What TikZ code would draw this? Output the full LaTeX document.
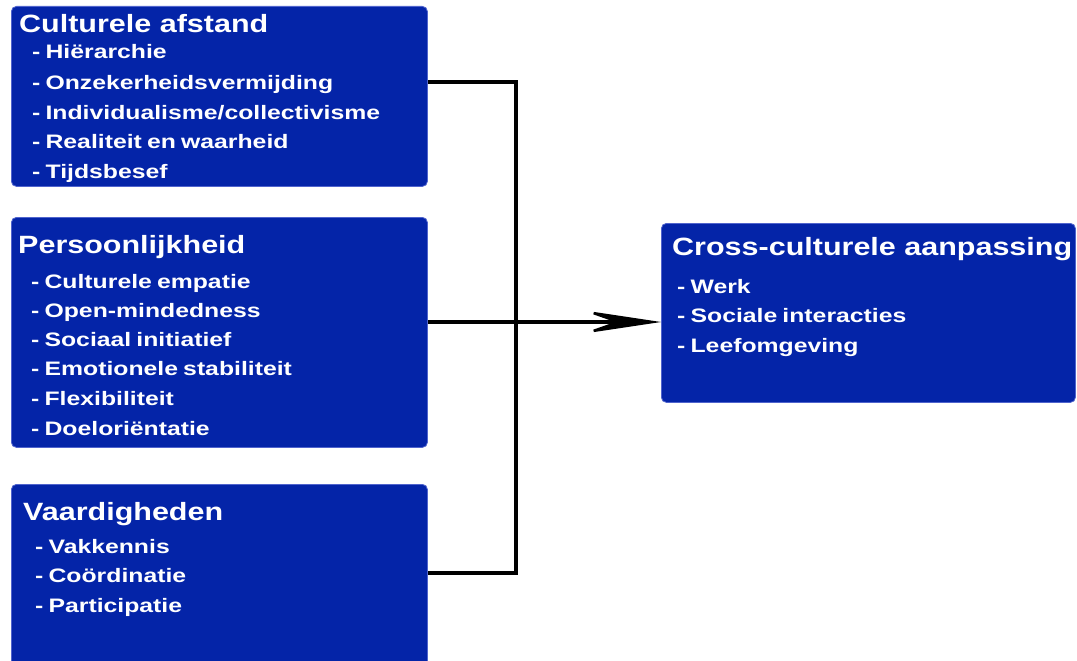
\documentclass[tikz,border=0pt]{standalone}
\usepackage{fontspec}
\setmainfont{Liberation Sans}
\newfontfamily\titlefam{Liberation Sans}[FakeStretch=1.22]
\newfontfamily\itemfam{Liberation Sans}[FakeStretch=1.27, WordSpace=0.75]
\usetikzlibrary{arrows.meta}
\definecolor{boxblue}{RGB}{4,36,168}
\definecolor{boxedge}{RGB}{80,100,205}
\begin{document}
\begin{tikzpicture}[x=1pt,y=-1pt,
  box/.style={draw=boxedge, line width=0.8pt, fill=boxblue, rounded corners=5pt, anchor=north west, inner sep=0pt},
  ttl/.style={anchor=base west, inner sep=0pt, text=white, font=\titlefam\bfseries\fontsize{25}{30}\selectfont},
  itm/.style={anchor=base west, inner sep=0pt, text=white, font=\itemfam\bfseries\fontsize{19.5}{24}\selectfont},
  conn/.style={line width=3.2pt, line join=miter, draw=black}]
\useasboundingbox (0,0) rectangle (1077,661);
\clip (0,0) rectangle (1077,661);

% boxes
\node[box, minimum width=416pt, minimum height=180pt] (b1) at (11,6) {};
\node[box, minimum width=416pt, minimum height=230pt] (b2) at (11,217) {};
\node[box, minimum width=416pt, minimum height=195pt] (b3) at (11,484) {};
\node[box, minimum width=414pt, minimum height=179pt] (b4) at (661,223) {};

% box 1 text
\node[ttl] (t1) at (19,33) {Culturele afstand};
\node[itm] (t1a) at (32,59) {- Hiërarchie};
\node[itm] (t1b) at (32,89) {- Onzekerheidsvermijding};
\node[itm] (t1c) at (32,119) {- Individualisme/collectivisme};
\node[itm] (t1d) at (32,148) {- Realiteit en waarheid};
\node[itm] (t1e) at (32,178) {- Tijdsbesef};

% box 2 text
\node[ttl] (t2) at (18,253) {Persoonlijkheid};
\node[itm] (t2a) at (31,288) {- Culturele empatie};
\node[itm] (t2b) at (31,317) {- Open-mindedness};
\node[itm] (t2c) at (31,346) {- Sociaal initiatief};
\node[itm] (t2d) at (31,375) {- Emotionele stabiliteit};
\node[itm] (t2e) at (31,405) {- Flexibiliteit};
\node[itm] (t2f) at (31,435) {- Doeloriëntatie};

% box 3 text
\node[ttl] (t3) at (23,520) {Vaardigheden};
\node[itm] (t3a) at (35,553) {- Vakkennis};
\node[itm] (t3b) at (35,582) {- Coördinatie};
\node[itm] (t3c) at (35,612) {- Participatie};

% box 4 text
\node[ttl] (t4) at (672,255) {Cross-culturele aanpassing};
\node[itm] (t4a) at (677,293) {- Werk};
\node[itm] (t4b) at (677,322) {- Sociale interacties};
\node[itm] (t4c) at (677,352) {- Leefomgeving};

% connectors
\coordinate (j1) at (516,82);
\coordinate (j3) at (516,573);
\coordinate (m) at (516,322);
\draw[conn] (b1.east |- j1) -- (j1) -- (j3) -- (b3.east |- j3);
\draw[conn, -{Stealth[length=80pt, width=24pt, inset=34pt, line width=2.5pt]}] (b2.east |- m) -- (b4.west |- m);
\end{tikzpicture}
\end{document}
